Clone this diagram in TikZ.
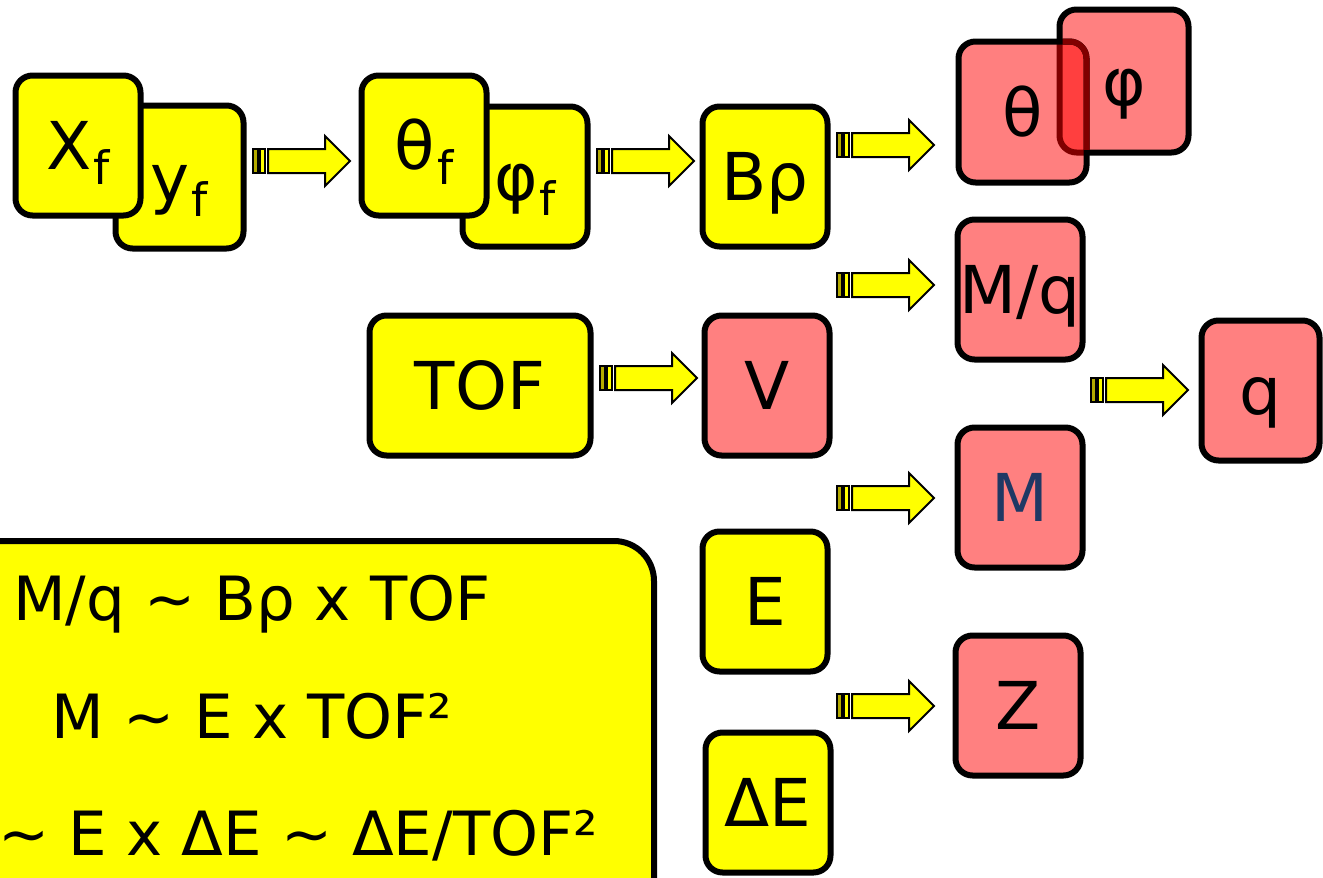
\documentclass[tikz,border=0pt]{standalone}
\usepackage{fontspec}
\setmainfont{DejaVu Sans}
\usetikzlibrary{calc}
\definecolor{byel}{HTML}{FFFF00}
\definecolor{bred}{HTML}{FF8080}
\definecolor{olivebar}{HTML}{B4AA00}
\definecolor{mnavy}{HTML}{1F3864}
\definecolor{darkmaroon}{HTML}{800000}
\newcommand{\subf}{\kern2pt\raisebox{-15pt}{\fontsize{46}{46}\selectfont f}}
\tikzset{
  box/.style={draw=black, line width=6pt, rounded corners=17pt, outer sep=0pt,
    inner sep=0pt, minimum width=125pt, minimum height=140pt,
    text height=48pt, text depth=0pt, font=\fontsize{66}{70}\selectfont},
  ybox/.style={box, fill=byel},
  rbox/.style={box, fill=bred},
  fline/.style={inner sep=0pt, font=\fontsize{61}{66}\selectfont},
  pics/blockarrow/.style={code={
    \draw[line width=1.5pt, fill=olivebar] (0,-12) rectangle (5,12);
    \draw[line width=1.5pt, fill=byel] (7,-12) rectangle (12,12);
    \draw[line width=2pt, fill=byel, line join=miter]
      (15,-12) -- (72,-12) -- (72,-25) -- (97,0) -- (72,25) -- (72,12) -- (15,12) -- cycle;
  }}
}
\begin{document}
\begin{tikzpicture}[x=1pt,y=-1pt]
\useasboundingbox (0,0) rectangle (1323,878);
\fill[white] (0,0) rectangle (1323,878);

% top row
\node[ybox, minimum width=128pt, minimum height=143pt] (yf) at (179.5,177) {y\subf};
\node[ybox] (xf) at (78,145.5) {X\subf};
\node[ybox] (phif) at (525,176.5) {φ\subf};
\node[ybox] (thetaf) at (424,145.5) {θ\subf};
\node[ybox] (brho) at (765,176.5) {Bρ};

% theta / phi pair
\node[rbox, minimum width=129pt, minimum height=143pt] (phi) at (1124,81) {φ};
\node[box, fill=red, fill opacity=0.5, text opacity=1, draw opacity=1,
      minimum width=128pt, minimum height=141pt] (theta) at (1022.5,112) {θ};
\begin{scope}
  \clip ([xshift=3pt,yshift=-3pt]phi.north west) rectangle ([xshift=-3pt,yshift=3pt]phi.south east);
  \draw[line width=6pt, darkmaroon, rounded corners=17pt] (theta.south west) rectangle (theta.north east);
\end{scope}

% other boxes
\node[rbox] (mq) at (1020,289.5) {M/q};
\node[ybox, minimum width=221pt] (tof) at (480,385.5) {TOF};
\node[rbox] (v) at (767,385.5) {V};
\node[rbox, minimum width=118pt] (q) at (1260.5,390.5) {q};
\node[rbox, text=mnavy] (m) at (1020,497.5) {M};
\node[ybox] (e) at (765,601.5) {E};
\node[rbox] (z) at (1018,705.5) {Z};
\node[ybox] (de) at (768,802.5) {ΔE};

% block arrows
\pic at (253,161) {blockarrow};
\pic at (597,161) {blockarrow};
\pic at (837,145) {blockarrow};
\pic at (837,285) {blockarrow};
\pic at (600,378) {blockarrow};
\pic at (1091,390) {blockarrow};
\pic at (837,498) {blockarrow};
\pic at (837,706) {blockarrow};

% formula box
\node[draw=black, fill=byel, line width=6pt, rounded corners=40pt, outer sep=0pt,
      minimum width=694pt, minimum height=389pt] (formula) at (307,735.5) {};
\node[fline, anchor=base] (f1) at (252,620) {M/q \textasciitilde{} Bρ x TOF};
\node[fline, anchor=base] (f2) at (252,738) {M \textasciitilde{} E x TOF²};
\node[fline, anchor=base east] (f3) at (598,855) {\textasciitilde{} E x ΔE \textasciitilde{} ΔE/TOF²};
\end{tikzpicture}
\end{document}
